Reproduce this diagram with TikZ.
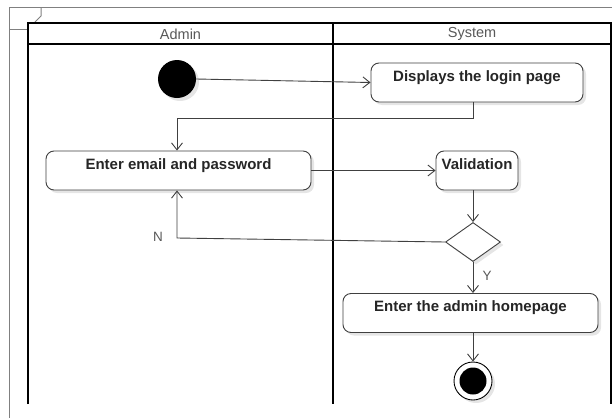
\documentclass[tikz,border=0pt]{standalone}
\usepackage{fontspec}
\setmainfont{Liberation Sans}
\usetikzlibrary{arrows.meta,shapes.geometric,shadows}
\tikzset{
  act/.style={draw=black!75, line width=0.9pt, rounded corners=8pt, fill=white,
    font=\bfseries\fontsize{15}{15}\selectfont, text=black!85,
    inner xsep=2pt, inner ysep=6pt, text height=12pt, text depth=15pt,
    drop shadow={shadow xshift=3pt, shadow yshift=-3pt, fill=black, opacity=0.10}},
  arr/.style={draw=black!75, line width=0.9pt, -{Straight Barb[length=7pt,width=11pt]}},
  lane/.style={draw=black, line width=1.6pt},
  frame/.style={draw=black!50, line width=1pt},
  head/.style={font=\fontsize{14.5}{14.5}\selectfont, text=black!65},
  guard/.style={font=\fontsize{13.5}{13.5}\selectfont, text=black!65},
  shade/.style={drop shadow={shadow xshift=3pt, shadow yshift=-3pt, fill=black, opacity=0.10}},
}
\begin{document}
\begin{tikzpicture}[x=1pt,y=-1pt]
\useasboundingbox[fill=white] (0,0) rectangle (616,418);

% outer frame with its tab
\draw[frame] (9,418) -- (9,7) -- (612,7);
\draw[frame] (41,7) -- (41,16) -- (35,22);
\draw[frame] (9,29) -- (28,29);

% swimlanes
\draw[lane] (28,404) -- (28,23) -- (611,23) -- (611,404);
\draw[lane] (28,44) -- (611,44);
\draw[lane] (333,23) -- (333,404);
\node[head] (hadmin) at (180.5,34) {Admin};
\node[head] (hsys) at (472,34) {System};

% activity nodes
\node[circle, fill=black, minimum size=38pt, inner sep=0pt, shade] (start) at (177,79) {};
\node[act, minimum width=212pt] (disp) at (477,82.5) {Displays the login page};
\node[act, minimum width=265pt] (email) at (178.5,170.5) {Enter email and password};
\node[act, minimum width=82pt] (valid) at (477,170.5) {Validation};
\node[diamond, draw=black!75, line width=0.9pt, fill=white, minimum width=55pt,
      minimum height=39pt, inner sep=0pt, shade] (dec) at (473,242) {};
\node[act, minimum width=255pt] (home) at (470.5,313) {Enter the admin homepage};
\node[circle, draw=black, line width=0.9pt, fill=white, minimum size=38pt,
      inner sep=0pt, shade] (stop) at (473,381) {};
\node[circle, fill=black, minimum size=27pt, inner sep=0pt] (stopin) at (stop) {};

% bend points of the routed connectors
\coordinate (nturn) at (177,238);

% connectors
\draw[arr] (start.east) -- (disp.west);
\draw[arr] ([xshift=-4pt]disp.south) -- ++(0,16) -| ([xshift=-1.5pt]email.north);
\draw[arr] (email.east) -- (valid.west);
\draw[arr] (valid.south -| dec.north) -- (dec.north);
\draw[arr] (dec.west) -- (nturn) -- (nturn |- email.south);
\node[guard] (gn) at (158,237) {N};
\draw[arr] (dec.south) -- (home.north -| dec.south);
\node[guard] (gy) at (487,276) {Y};
\draw[arr] (home.south -| stop.north) -- (stop.north);
\end{tikzpicture}
\end{document}
